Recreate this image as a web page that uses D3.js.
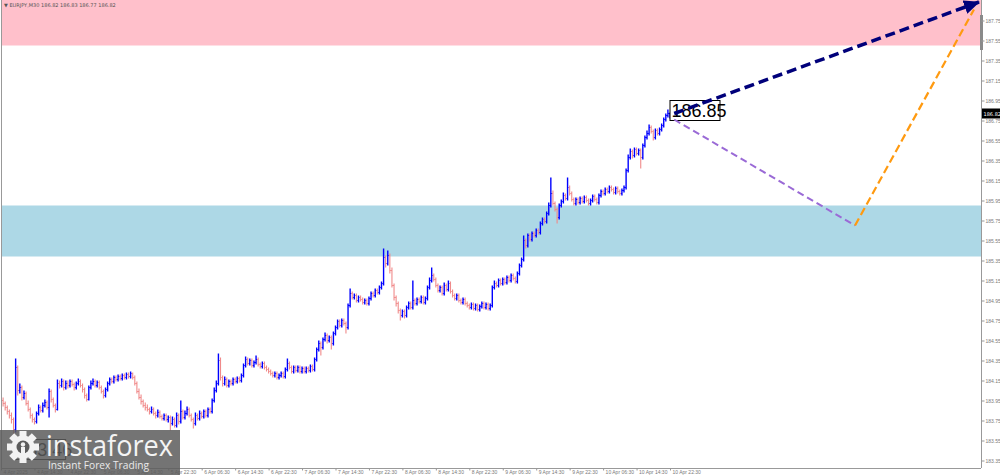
<!DOCTYPE html>
<meta charset="utf-8">
<style>
  body { margin: 0; background: #fff; }
  svg { display: block; font-family: Tahoma, "DejaVu Sans", sans-serif; }
  .axis text { fill: #7a7a7a; font-size: 5px; }
  .axis line { stroke: #999; }
</style>
<body>
<script src="https://d3js.org/d3.v7.min.js"></script>
<script>
  var width = 1000, height = 475;

  // EURJPY M30, one value per bar (open = previous close)
  var firstOpen = 183.97;
  var closes = [
    183.95,183.92,183.88,183.84,183.80,183.76,183.66,184.28,184.05,184.08,183.98,184.02,183.92,183.86,183.80,183.76,
    183.74,183.82,183.88,183.85,183.90,183.93,183.88,184.04,183.96,183.90,183.86,184.12,184.10,184.14,184.08,184.12,
    184.10,184.14,184.11,184.08,184.12,184.14,184.10,184.06,184.00,183.96,184.08,184.12,184.14,184.10,184.13,184.08,
    184.04,184.00,184.06,184.12,184.16,184.14,184.18,184.16,184.19,184.17,184.20,184.18,184.21,184.19,184.22,184.18,
    184.12,184.04,183.98,183.94,183.90,183.88,183.86,183.84,183.86,183.82,183.80,183.83,183.79,183.77,183.80,183.76,
    183.78,183.72,183.76,183.70,183.80,183.74,183.84,183.78,183.82,183.86,183.80,183.76,183.72,183.80,183.77,183.82,
    183.79,183.84,183.80,183.86,183.84,183.95,184.05,184.12,184.35,184.18,184.12,184.16,184.10,184.14,184.12,184.16,
    184.14,184.17,184.15,184.20,184.30,184.36,184.32,184.35,184.30,184.33,184.36,184.31,184.29,184.32,184.28,184.26,
    184.24,184.22,184.20,184.22,184.18,184.20,184.22,184.19,184.26,184.32,184.28,184.24,184.28,184.25,184.28,184.24,
    184.27,184.24,184.27,184.25,184.29,184.26,184.36,184.46,184.52,184.48,184.56,184.60,184.55,184.58,184.52,184.62,
    184.68,184.74,184.70,184.75,184.72,184.68,184.90,185.02,184.98,185.00,184.95,184.98,184.96,184.93,184.95,184.92,
    184.97,185.02,185.00,185.05,185.03,185.08,185.12,185.38,185.32,185.40,185.25,185.10,184.98,184.92,184.85,184.80,
    184.84,184.80,184.88,184.92,184.88,184.95,184.92,184.96,184.94,184.98,184.93,184.97,185.08,185.15,185.20,185.16,
    185.10,185.05,185.08,185.02,185.10,185.06,185.12,185.04,185.00,184.97,185.00,184.95,184.93,184.96,184.92,184.90,
    184.88,184.91,184.87,184.90,184.86,184.89,184.92,184.88,184.91,184.87,184.90,185.08,185.12,185.10,185.15,185.12,
    185.16,185.13,185.18,185.15,185.20,185.17,185.14,185.22,185.30,185.36,185.55,185.50,185.60,185.56,185.62,185.60,
    185.65,185.63,185.72,185.76,185.74,185.82,185.90,186.02,185.92,185.86,185.78,185.90,185.94,186.00,185.97,186.08,
    186.02,185.96,185.92,185.96,185.93,185.97,185.94,185.98,185.95,185.92,185.95,185.99,185.96,185.93,186.00,186.04,
    186.02,186.06,186.04,186.08,186.06,186.03,186.07,186.04,186.02,186.05,186.08,186.25,186.38,186.44,186.40,186.46,
    186.42,186.45,186.38,186.50,186.58,186.62,186.68,186.64,186.58,186.65,186.62,186.66,186.70,186.76,186.80,186.82,186.82
  ];
  var highs = [
    184.00,183.98,183.94,183.90,183.86,183.83,183.78,184.37,184.30,184.12,184.10,184.05,184.04,183.95,183.88,183.82,
    183.78,183.84,183.91,183.90,183.93,183.96,183.95,184.07,184.06,183.98,183.92,184.16,184.15,184.17,184.16,184.15,
    184.15,184.16,184.16,184.13,184.14,184.17,184.16,184.12,184.08,184.02,184.10,184.15,184.17,184.16,184.15,184.15,
    184.10,184.06,184.08,184.14,184.18,184.18,184.20,184.20,184.21,184.21,184.22,184.22,184.23,184.23,184.24,184.23,
    184.20,184.14,184.07,184.01,183.96,183.93,183.91,183.88,183.89,183.88,183.84,183.86,183.85,183.81,183.82,183.82,
    183.80,183.80,183.79,183.78,183.83,183.82,183.95,183.86,183.85,183.89,183.88,183.82,183.78,183.83,183.82,183.85,
    183.84,183.86,183.86,183.88,183.88,183.97,184.08,184.15,184.42,184.38,184.20,184.19,184.18,184.16,184.16,184.18,
    184.18,184.19,184.19,184.22,184.32,184.39,184.38,184.37,184.37,184.35,184.40,184.38,184.33,184.34,184.34,184.30,
    184.28,184.26,184.24,184.24,184.24,184.22,184.24,184.24,184.28,184.37,184.34,184.30,184.30,184.30,184.30,184.30,
    184.29,184.29,184.29,184.29,184.31,184.31,184.38,184.48,184.55,184.54,184.58,184.63,184.62,184.60,184.60,184.64,
    184.70,184.76,184.76,184.77,184.77,184.74,184.92,185.07,185.04,185.02,185.02,185.00,185.00,184.98,184.97,184.97,
    184.99,185.04,185.04,185.07,185.07,185.10,185.14,185.47,185.40,185.45,185.42,185.28,185.12,185.00,184.94,184.87,
    184.86,184.86,184.90,184.94,184.94,185.15,184.97,184.98,184.98,185.00,185.00,184.99,185.10,185.18,185.28,185.22,
    185.18,185.12,185.10,185.10,185.13,185.12,185.15,185.14,185.06,185.02,185.02,185.02,184.97,184.98,184.98,184.94,
    184.92,184.93,184.93,184.92,184.92,184.91,184.94,184.94,184.93,184.93,184.92,185.10,185.15,185.14,185.17,185.17,
    185.18,185.18,185.20,185.20,185.22,185.22,185.19,185.24,185.32,185.38,185.60,185.57,185.62,185.62,185.64,185.64,
    185.67,185.67,185.74,185.78,185.78,185.84,185.93,186.18,186.05,185.94,185.88,185.92,185.96,186.03,186.02,186.18,
    186.10,186.04,185.98,185.98,185.98,185.99,185.99,186.00,186.00,185.97,185.97,186.01,186.01,185.98,186.02,186.06,
    186.06,186.08,186.08,186.10,186.10,186.08,186.09,186.09,186.06,186.07,186.10,186.27,186.41,186.47,186.46,186.48,
    186.48,186.47,186.47,186.52,186.60,186.65,186.71,186.70,186.66,186.67,186.67,186.68,186.72,186.78,186.82,186.86,186.83
  ];
  var lows = [
    183.93,183.89,183.85,183.81,183.77,183.72,183.46,183.63,184.00,184.02,183.95,183.96,183.90,183.84,183.77,183.73,
    183.71,183.72,183.80,183.83,183.83,183.88,183.86,183.78,183.93,183.88,183.83,183.85,184.07,184.08,184.05,184.06,
    184.07,184.08,184.09,184.05,184.06,184.10,184.08,184.03,183.97,183.94,183.95,184.06,184.10,184.08,184.08,184.06,
    184.02,183.97,183.98,184.04,184.10,184.12,184.12,184.14,184.14,184.15,184.15,184.16,184.16,184.17,184.17,184.16,
    184.10,184.02,183.96,183.91,183.88,183.85,183.84,183.81,183.82,183.80,183.77,183.78,183.77,183.75,183.75,183.74,
    183.73,183.65,183.70,183.68,183.68,183.71,183.72,183.76,183.76,183.80,183.78,183.74,183.67,183.70,183.75,183.75,
    183.77,183.77,183.78,183.78,183.82,183.82,183.93,184.03,184.10,184.15,184.09,184.10,184.08,184.08,184.10,184.10,
    184.12,184.12,184.13,184.13,184.18,184.28,184.30,184.30,184.28,184.28,184.31,184.29,184.27,184.27,184.26,184.24,
    184.22,184.20,184.18,184.18,184.16,184.16,184.18,184.17,184.17,184.24,184.26,184.22,184.22,184.23,184.23,184.22,
    184.22,184.22,184.22,184.23,184.23,184.24,184.24,184.34,184.44,184.40,184.46,184.54,184.52,184.53,184.46,184.50,
    184.60,184.66,184.68,184.68,184.70,184.62,184.66,184.88,184.96,184.96,184.93,184.93,184.94,184.91,184.91,184.90,
    184.90,184.95,184.98,184.98,185.01,185.01,185.06,185.10,185.28,185.30,185.22,185.08,184.95,184.89,184.82,184.75,
    184.78,184.77,184.78,184.86,184.86,184.86,184.90,184.90,184.92,184.92,184.91,184.91,184.95,185.06,185.13,185.14,
    185.08,185.03,185.03,185.00,185.00,185.04,185.04,185.02,184.98,184.95,184.95,184.93,184.91,184.91,184.90,184.88,
    184.86,184.86,184.85,184.85,184.84,184.84,184.87,184.86,184.86,184.85,184.85,184.88,185.06,185.08,185.08,185.10,
    185.10,185.11,185.11,185.13,185.13,185.15,185.12,185.12,185.20,185.28,185.34,185.47,185.48,185.54,185.54,185.58,
    185.58,185.61,185.61,185.70,185.72,185.72,185.80,185.88,185.90,185.84,185.72,185.76,185.88,185.92,185.95,185.95,
    186.00,185.94,185.90,185.90,185.91,185.91,185.92,185.92,185.93,185.90,185.90,185.93,185.94,185.91,185.91,185.98,
    186.00,186.00,186.02,186.02,186.04,186.01,186.01,186.02,186.00,186.00,186.03,186.06,186.23,186.36,186.37,186.38,
    186.40,186.40,186.27,186.36,186.48,186.56,186.60,186.62,186.55,186.56,186.60,186.60,186.64,186.68,186.74,186.78,186.77
  ];

  // time axis: one label every 16 bars
  var timeLabels = ["4 Apr 2025","4 Apr 14:30","4 Apr 22:30","5 Apr 06:30","5 Apr 14:30","5 Apr 22:30",
    "6 Apr 06:30","6 Apr 14:30","6 Apr 22:30","7 Apr 06:30","7 Apr 14:30","7 Apr 22:30","8 Apr 06:30",
    "8 Apr 14:30","8 Apr 22:30","9 Apr 06:30","9 Apr 14:30","9 Apr 22:30","10 Apr 06:30","10 Apr 14:30","10 Apr 22:30"];
  var priceTicks = [187.75,187.55,187.35,187.15,186.95,186.75,186.55,186.35,186.15,185.95,185.75,185.55,
    185.35,185.15,184.95,184.75,184.55,184.35,184.15,183.95,183.75,183.55,183.35];

  // zones
  var sellZone = [187.50, 188.20];
  var buyZone = [185.39, 185.90];

  // forecast legs [bar, price]
  var mainLeg = [[322, 186.82], [467.8, 187.935]];
  var pullback = [[322, 186.76], [408.5, 185.70]];
  var rebound = [[408.5, 185.70], [465.4, 187.86]];

  var priceLabels = [{bar: 320, price: 186.85, text: "186.85"}, {bar: 7, price: 183.46, text: "183.46"}];
  var header = "\u25BC EURJPY,M30  186.82 186.83 186.77 186.82";
  var lastPrice = 186.82;

  var plotRight = 981, plotBottom = 468;

  var x = d3.scaleLinear().domain([0, 320]).range([1, 670]);
  var y = d3.scaleLinear().domain([183.35, 187.75]).range([460.5, 20.5]);

  var svg = d3.select("body").append("svg")
      .attr("width", width)
      .attr("height", height);

  svg.append("clipPath").attr("id", "plot")
    .append("rect").attr("x", 1).attr("y", 0).attr("width", plotRight - 1).attr("height", plotBottom);

  var g = svg.append("g").attr("clip-path", "url(#plot)");

  g.append("rect")
      .attr("x", 1).attr("width", plotRight - 1)
      .attr("y", y(sellZone[1])).attr("height", y(sellZone[0]) - y(sellZone[1]))
      .attr("fill", "#ffc0cb");
  g.append("rect")
      .attr("x", 1).attr("width", plotRight - 1)
      .attr("y", y(buyZone[1])).attr("height", y(buyZone[0]) - y(buyZone[1]))
      .attr("fill", "#add8e6");

  var bars = closes.map(function(c, i) {
    return {i: i, o: i ? closes[i - 1] : firstOpen, h: highs[i], l: lows[i], c: c};
  });
  var color = function(d) { return d.c >= d.o ? "#0000ff" : "#f08a8a"; };

  var bar = g.selectAll("g.bar").data(bars).join("g").attr("class", "bar")
      .attr("stroke", color);
  bar.append("line")
      .attr("x1", function(d) { return x(d.i); })
      .attr("x2", function(d) { return x(d.i); })
      .attr("y1", function(d) { return y(d.h); })
      .attr("y2", function(d) { return y(d.l); })
      .attr("stroke-width", function(d) { return d.c >= d.o ? 1.4 : 1.1; });
  bar.append("line")
      .attr("x1", function(d) { return x(d.i) - 1; })
      .attr("x2", function(d) { return x(d.i); })
      .attr("y1", function(d) { return y(d.o); })
      .attr("y2", function(d) { return y(d.o); });
  bar.append("line")
      .attr("x1", function(d) { return x(d.i); })
      .attr("x2", function(d) { return x(d.i) + 1; })
      .attr("y1", function(d) { return y(d.c); })
      .attr("y2", function(d) { return y(d.c); });

  // boxed price labels
  var lab = g.selectAll("g.plabel").data(priceLabels).join("g").attr("class", "plabel")
      .attr("transform", function(d) { return "translate(" + x(d.bar) + "," + y(d.price) + ")"; });
  lab.append("rect")
      .attr("x", 0).attr("y", -10).attr("width", 50).attr("height", 20)
      .attr("fill", "#fff").attr("stroke", "#000").attr("stroke-width", 1);
  lab.append("text")
      .attr("x", 1.5).attr("y", 6.5)
      .attr("font-family", "Arial, 'Liberation Sans', sans-serif")
      .attr("font-size", "18px")
      .attr("fill", "#000")
      .text(function(d) { return d.text; });

  // forecast arrows
  var defs = svg.append("defs");
  defs.append("marker")
      .attr("id", "head")
      .attr("markerUnits", "userSpaceOnUse")
      .attr("viewBox", "0 0 16 14")
      .attr("refX", 15).attr("refY", 7)
      .attr("markerWidth", 16).attr("markerHeight", 14)
      .attr("orient", "auto")
    .append("path").attr("d", "M0,0L16,7L0,14Z").attr("fill", "#00007a");

  var line = d3.line().x(function(d) { return x(d[0]); }).y(function(d) { return y(d[1]); });

  g.append("path").datum(pullback).attr("d", line)
      .attr("fill", "none").attr("stroke", "#9a6ad6").attr("stroke-width", 2)
      .attr("stroke-dasharray", "7,4");
  g.append("path").datum(rebound).attr("d", line)
      .attr("fill", "none").attr("stroke", "#ff9a10").attr("stroke-width", 2.2)
      .attr("stroke-dasharray", "8,4");
  g.append("path").datum(mainLeg).attr("d", line)
      .attr("fill", "none").attr("stroke", "#00007a").attr("stroke-width", 3.5)
      .attr("stroke-dasharray", "10,5")
      .attr("marker-end", "url(#head)");

  // frame
  svg.append("line").attr("x1", 1.5).attr("x2", 1.5).attr("y1", 0).attr("y2", plotBottom)
      .attr("stroke", "#999");
  svg.append("line").attr("x1", plotRight + 0.5).attr("x2", plotRight + 0.5).attr("y1", 0).attr("y2", plotBottom)
      .attr("stroke", "#999");
  svg.append("line").attr("x1", 1).attr("x2", plotRight).attr("y1", plotBottom + 0.5).attr("y2", plotBottom + 0.5)
      .attr("stroke", "#999");
  svg.append("rect").attr("x", plotRight - 1).attr("y", 15).attr("width", 3).attr("height", 35)
      .attr("fill", "#8a8a8a");

  // axes
  var yAxis = svg.append("g").attr("class", "axis")
      .attr("transform", "translate(" + (plotRight + 0.5) + ",0)")
      .call(d3.axisRight(y).tickValues(priceTicks).tickSize(3).tickPadding(1)
        .tickFormat(function(d) { return d.toFixed(2); }));
  yAxis.select(".domain").remove();

  var xAxis = svg.append("g").attr("class", "axis")
      .attr("transform", "translate(0," + (plotBottom + 0.5) + ")")
      .call(d3.axisBottom(x).tickValues(d3.range(0, 321, 16)).tickSize(2)
        .tickFormat(function(d, i) { return timeLabels[i]; }));
  xAxis.select(".domain").remove();
  xAxis.selectAll("text").attr("text-anchor", "start").attr("x", 2).attr("y", 1.5);

  // last price marker
  svg.append("rect").attr("x", plotRight + 1).attr("y", y(lastPrice) - 5)
      .attr("width", 18).attr("height", 10).attr("fill", "#000");
  svg.append("text").attr("x", plotRight + 2.5).attr("y", y(lastPrice) + 2)
      .attr("font-size", "5px").attr("fill", "#fff").text(lastPrice.toFixed(2));

  svg.append("text").attr("x", 4).attr("y", 7)
      .attr("font-size", "5px").attr("fill", "#555").text(header);

  // watermark
  var logo = svg.append("g");
  logo.append("rect").attr("x", 0).attr("y", 430).attr("width", 180).attr("height", 45)
      .attr("fill", "#5c5c5c").attr("opacity", 0.85);
  var gear = logo.append("g").attr("transform", "translate(23,447)").attr("fill", "#f2f2f2");
  gear.selectAll("rect").data(d3.range(8)).join("rect")
      .attr("x", -3.5).attr("y", -16).attr("width", 7).attr("height", 8)
      .attr("transform", function(d) { return "rotate(" + d * 45 + ")"; });
  gear.append("circle").attr("r", 11.5);
  gear.append("circle").attr("r", 6.5).attr("fill", "#5c5c5c");
  gear.append("circle").attr("cy", -2.5).attr("r", 2.2);
  gear.append("rect").attr("x", -2).attr("y", 0).attr("width", 4).attr("height", 8);
  logo.append("text").attr("x", 46).attr("y", 456)
      .attr("font-family", "'Open Sans', sans-serif").attr("font-size", "30px")
      .attr("fill", "#f4f4f4").attr("textLength", 127).attr("lengthAdjust", "spacingAndGlyphs")
      .text("instaforex");
  logo.append("text").attr("x", 48).attr("y", 469)
      .attr("font-family", "'Open Sans', sans-serif").attr("font-size", "11px")
      .attr("fill", "#eaeaea").attr("textLength", 101).attr("lengthAdjust", "spacingAndGlyphs")
      .text("Instant Forex Trading");
</script>
</body>
